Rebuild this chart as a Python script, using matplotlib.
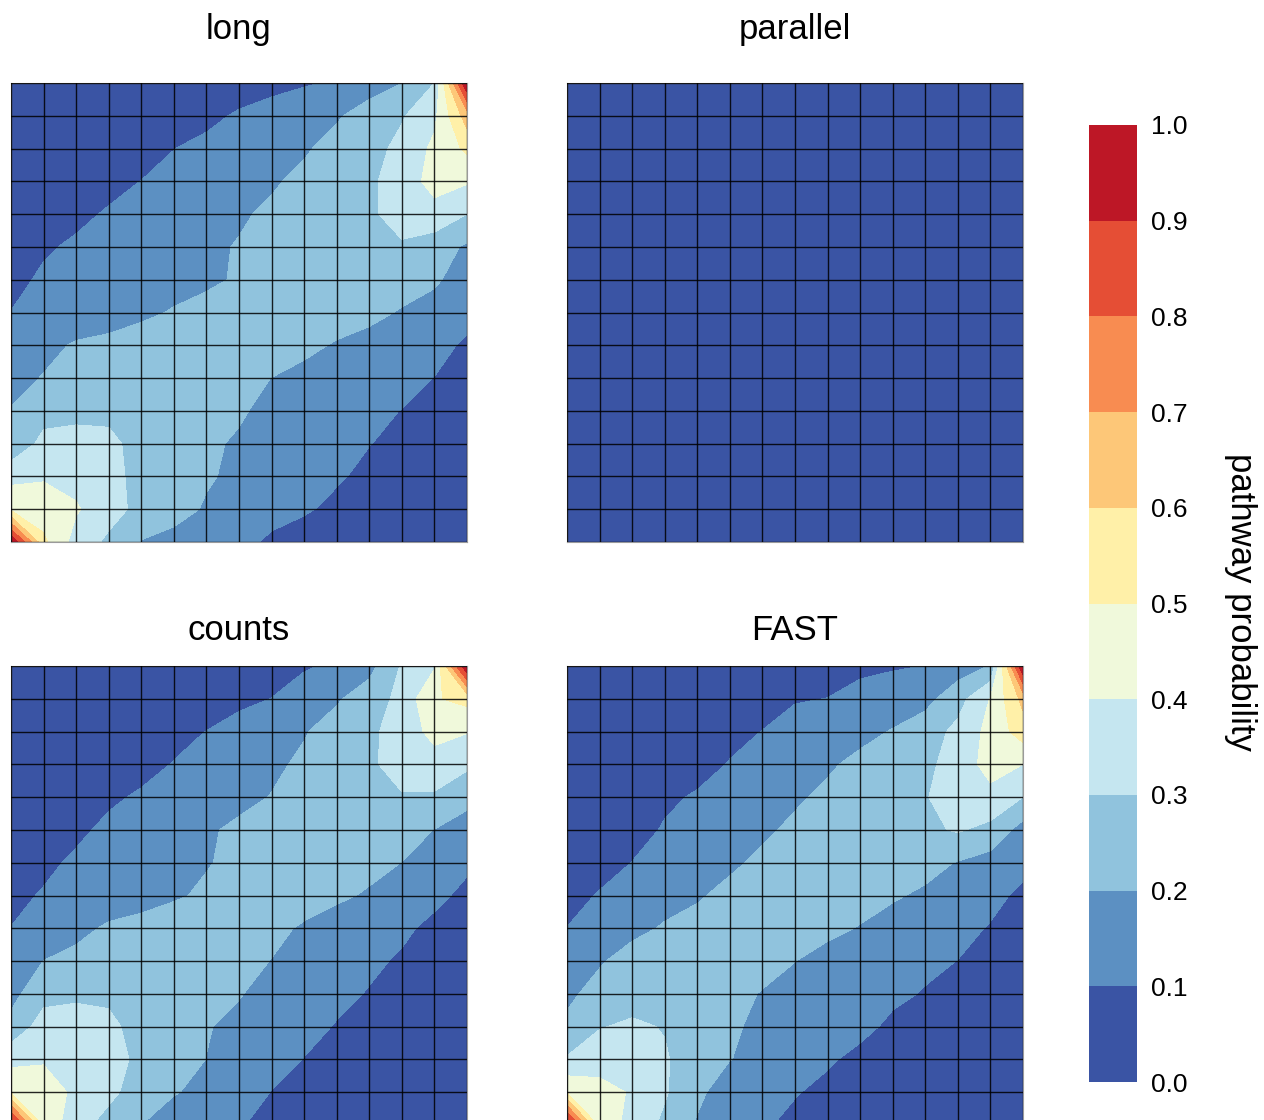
import numpy as np
import matplotlib
matplotlib.use("Agg")
import matplotlib.pyplot as plt

plt.rcParams['font.family'] = ['Liberation Sans', 'DejaVu Sans']

# ---- data -------------------------------------------------------------
panel_titles = ["long", "parallel", "counts", "FAST"]
levels = [0.0, 0.1, 0.2, 0.3, 0.4, 0.5, 0.6, 0.7, 0.8, 0.9, 1.0]
cbar_tick_labels = ["0.0", "0.1", "0.2", "0.3", "0.4", "0.5",
                    "0.6", "0.7", "0.8", "0.9", "1.0"]
cbar_label = "pathway probability"

# 15 x 15 node values, listed top row first
long_rows = [
    [0.01, 0.02, 0.02, 0.03, 0.03, 0.04, 0.05, 0.06, 0.07, 0.09, 0.11, 0.16, 0.20, 0.30, 1.00],
    [0.01, 0.02, 0.02, 0.03, 0.04, 0.05, 0.08, 0.11, 0.14, 0.17, 0.19, 0.24, 0.29, 0.38, 0.65],
    [0.02, 0.03, 0.04, 0.05, 0.07, 0.099, 0.12, 0.15, 0.17, 0.19, 0.23, 0.26, 0.33, 0.42, 0.52],
    [0.03, 0.04, 0.06, 0.08, 0.101, 0.12, 0.145, 0.17, 0.19, 0.22, 0.255, 0.285, 0.34, 0.44, 0.41],
    [0.04, 0.06, 0.085, 0.107, 0.128, 0.149, 0.17, 0.19, 0.214, 0.24, 0.265, 0.28, 0.35, 0.36, 0.30],
    [0.06, 0.092, 0.11, 0.13, 0.147, 0.166, 0.185, 0.205, 0.23, 0.25, 0.27, 0.28, 0.285, 0.25, 0.185],
    [0.082, 0.11, 0.123, 0.139, 0.156, 0.172, 0.183, 0.21, 0.24, 0.26, 0.27, 0.27, 0.25, 0.215, 0.15],
    [0.101, 0.121, 0.142, 0.164, 0.185, 0.206, 0.23, 0.25, 0.26, 0.26, 0.25, 0.23, 0.19, 0.16, 0.12],
    [0.14, 0.173, 0.21, 0.22, 0.235, 0.25, 0.26, 0.26, 0.25, 0.225, 0.19, 0.16, 0.14, 0.12, 0.09],
    [0.17, 0.205, 0.23, 0.245, 0.255, 0.26, 0.25, 0.23, 0.199, 0.17, 0.15, 0.13, 0.115, 0.099, 0.07],
    [0.205, 0.26, 0.27, 0.27, 0.26, 0.25, 0.235, 0.215, 0.165, 0.14, 0.125, 0.11, 0.099, 0.07, 0.04],
    [0.22, 0.33, 0.34, 0.33, 0.255, 0.24, 0.22, 0.185, 0.16, 0.14, 0.12, 0.102, 0.08, 0.05, 0.03],
    [0.37, 0.39, 0.37, 0.33, 0.27, 0.24, 0.21, 0.18, 0.15, 0.12, 0.11, 0.08, 0.06, 0.04, 0.02],
    [0.48, 0.45, 0.41, 0.34, 0.27, 0.235, 0.19, 0.16, 0.13, 0.11, 0.08, 0.05, 0.03, 0.02, 0.01],
    [1.00, 0.52, 0.36, 0.28, 0.195, 0.17, 0.15, 0.125, 0.085, 0.06, 0.04, 0.03, 0.02, 0.02, 0.01],
]

parallel_rows = [[0.0] * 15 for _ in range(15)]

counts_rows = [
    [0.01, 0.01, 0.01, 0.02, 0.02, 0.03, 0.04, 0.05, 0.07, 0.09, 0.115, 0.17, 0.31, 0.39, 1.00],
    [0.01, 0.01, 0.02, 0.03, 0.04, 0.05, 0.06, 0.08, 0.101, 0.146, 0.19, 0.246, 0.33, 0.49, 0.53],
    [0.01, 0.02, 0.03, 0.05, 0.06, 0.08, 0.101, 0.132, 0.163, 0.194, 0.237, 0.28, 0.344, 0.43, 0.405],
    [0.02, 0.03, 0.04, 0.06, 0.08, 0.103, 0.13, 0.157, 0.184, 0.215, 0.252, 0.28, 0.35, 0.36, 0.32],
    [0.03, 0.05, 0.07, 0.09, 0.108, 0.131, 0.155, 0.179, 0.203, 0.24, 0.26, 0.28, 0.29, 0.287, 0.22],
    [0.04, 0.07, 0.088, 0.113, 0.139, 0.164, 0.19, 0.215, 0.235, 0.25, 0.26, 0.26, 0.24, 0.198, 0.17],
    [0.06, 0.087, 0.11, 0.131, 0.153, 0.175, 0.196, 0.215, 0.235, 0.245, 0.24, 0.225, 0.199, 0.16, 0.115],
    [0.085, 0.105, 0.127, 0.149, 0.171, 0.192, 0.21, 0.23, 0.24, 0.235, 0.215, 0.19, 0.16, 0.12, 0.08],
    [0.101, 0.138, 0.175, 0.213, 0.225, 0.235, 0.24, 0.235, 0.22, 0.19, 0.16, 0.135, 0.115, 0.08, 0.06],
    [0.135, 0.201, 0.225, 0.24, 0.245, 0.245, 0.24, 0.225, 0.198, 0.17, 0.145, 0.115, 0.09, 0.06, 0.04],
    [0.17, 0.267, 0.28, 0.275, 0.265, 0.25, 0.23, 0.205, 0.17, 0.14, 0.12, 0.095, 0.07, 0.05, 0.03],
    [0.23, 0.345, 0.35, 0.33, 0.25, 0.23, 0.205, 0.18, 0.155, 0.125, 0.095, 0.07, 0.05, 0.03, 0.02],
    [0.37, 0.39, 0.38, 0.35, 0.27, 0.235, 0.199, 0.17, 0.13, 0.098, 0.07, 0.05, 0.03, 0.02, 0.01],
    [0.49, 0.45, 0.38, 0.32, 0.26, 0.205, 0.18, 0.14, 0.098, 0.07, 0.05, 0.03, 0.02, 0.01, 0.01],
    [1.00, 0.48, 0.33, 0.27, 0.20, 0.16, 0.135, 0.11, 0.06, 0.04, 0.03, 0.02, 0.01, 0.01, 0.01],
]

fast_rows = [
    [0.01, 0.01, 0.02, 0.03, 0.03, 0.04, 0.05, 0.06, 0.07, 0.08, 0.09, 0.101, 0.15, 0.205, 1.00],
    [0.01, 0.02, 0.03, 0.05, 0.06, 0.07, 0.08, 0.095, 0.101, 0.13, 0.155, 0.17, 0.26, 0.405, 0.63],
    [0.01, 0.03, 0.04, 0.05, 0.07, 0.085, 0.101, 0.126, 0.151, 0.177, 0.205, 0.25, 0.327, 0.43, 0.55],
    [0.02, 0.03, 0.05, 0.06, 0.08, 0.103, 0.132, 0.16, 0.189, 0.22, 0.25, 0.27, 0.355, 0.43, 0.40],
    [0.02, 0.05, 0.07, 0.09, 0.106, 0.134, 0.161, 0.189, 0.216, 0.243, 0.27, 0.294, 0.35, 0.377, 0.30],
    [0.03, 0.06, 0.08, 0.105, 0.132, 0.16, 0.187, 0.215, 0.23, 0.245, 0.26, 0.28, 0.31, 0.27, 0.16],
    [0.05, 0.075, 0.101, 0.13, 0.158, 0.187, 0.215, 0.23, 0.245, 0.25, 0.25, 0.23, 0.195, 0.16, 0.12],
    [0.077, 0.105, 0.134, 0.163, 0.192, 0.22, 0.235, 0.245, 0.245, 0.235, 0.21, 0.185, 0.155, 0.12, 0.085],
    [0.101, 0.137, 0.174, 0.21, 0.225, 0.235, 0.24, 0.235, 0.22, 0.195, 0.165, 0.14, 0.12, 0.095, 0.06],
    [0.14, 0.19, 0.24, 0.25, 0.25, 0.245, 0.23, 0.201, 0.17, 0.15, 0.13, 0.115, 0.099, 0.07, 0.04],
    [0.18, 0.235, 0.26, 0.255, 0.245, 0.225, 0.195, 0.17, 0.15, 0.13, 0.115, 0.095, 0.07, 0.05, 0.03],
    [0.22, 0.295, 0.315, 0.295, 0.255, 0.21, 0.185, 0.165, 0.145, 0.12, 0.085, 0.07, 0.05, 0.03, 0.02],
    [0.31, 0.35, 0.36, 0.31, 0.245, 0.202, 0.175, 0.14, 0.11, 0.08, 0.06, 0.04, 0.03, 0.02, 0.01],
    [0.49, 0.44, 0.39, 0.31, 0.22, 0.15, 0.13, 0.105, 0.08, 0.06, 0.04, 0.03, 0.02, 0.01, 0.01],
    [1.00, 0.47, 0.36, 0.28, 0.19, 0.14, 0.11, 0.08, 0.06, 0.04, 0.03, 0.02, 0.01, 0.01, 0.01],
]

panel_rows = [long_rows, parallel_rows, counts_rows, fast_rows]

# ---- figure -----------------------------------------------------------
W, H = 1264, 1120
fig = plt.figure(figsize=(W / 100, H / 100), dpi=100)


def px_box(left, top, width, height):
    """Axes rectangle in figure fractions from pixel coordinates."""
    return [left / W, 1 - (top + height) / H, width / W, height / H]


panel_boxes = [
    px_box(11, 83, 456, 459),
    px_box(567, 83, 456, 459),
    px_box(11, 666, 456, 459),
    px_box(567, 666, 456, 459),
]
title_pads = [32, 32, 19, 19]

cmap = plt.get_cmap("RdYlBu_r")
cs = None
for rows, title, box, pad in zip(panel_rows, panel_titles, panel_boxes, title_pads):
    ax = fig.add_axes(box)
    z = np.array(rows, dtype=float)[::-1]  # bottom row first
    n = z.shape[0]
    xs = np.arange(n)
    ys = np.arange(n)
    cs = ax.contourf(xs, ys, z, levels=levels, cmap=cmap, vmin=0, vmax=1)
    ax.set_xlim(0, n - 1)
    ax.set_ylim(0, n - 1)
    ax.set_xticks(xs)
    ax.set_yticks(ys)
    ax.set_xticklabels([])
    ax.set_yticklabels([])
    ax.tick_params(length=0)
    ax.grid(True, color="black", linewidth=1.0, alpha=0.85)
    ax.set_axisbelow(False)
    for sp in ax.spines.values():
        sp.set_color("#9a9a9a")
        sp.set_linewidth(0.8)
    ax.set_title(title, fontsize=25, pad=pad)

cax = fig.add_axes(px_box(1089, 125, 48, 957))
cb = fig.colorbar(cs, cax=cax, ticks=levels)
cb.ax.set_yticklabels(cbar_tick_labels)
cb.outline.set_visible(False)
cb.ax.tick_params(length=0, pad=10, labelsize=19)
fig.text(1240 / W, 1 - 602 / H, cbar_label, rotation=270, fontsize=25,
         ha="center", va="center")

fig.savefig("out.png", dpi=100)
